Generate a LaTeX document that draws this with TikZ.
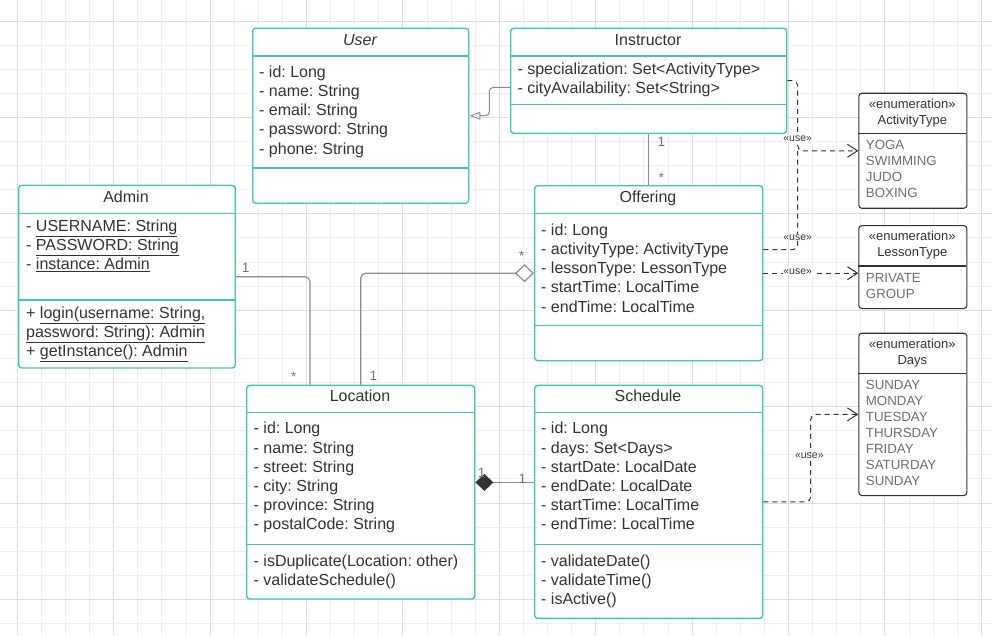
\documentclass[tikz,border=0pt]{standalone}
\usepackage{fontspec}
\setmainfont{Liberation Sans}
\usetikzlibrary{arrows.meta,calc}
\definecolor{teal1}{HTML}{3CC8B3}
\definecolor{txt}{HTML}{333333}
\definecolor{enumv}{HTML}{6D6D7A}
\definecolor{gridminor}{HTML}{EEEEEE}
\definecolor{gridmajor}{HTML}{DDDDDD}
\definecolor{conn}{HTML}{8C8C8C}
\definecolor{mult}{HTML}{70707B}
\frenchspacing
\newcommand\memlines[5]{% x, first centre y, step, name prefix, list
  \foreach \t [count=\i from 0] in {#5} \node[mem] (#4\i) at (#1, #2+5.5+#3*\i) {\t};}
\newcommand\enumlines[4]{% x, first centre y, name prefix, list
  \foreach \t [count=\i from 0] in {#4} \node[evl] (#3\i) at (#1, #2+4.7+16*\i) {\t};}
\begin{document}
\begin{tikzpicture}[x=1pt,y=-1pt,
  cls/.style={draw=teal1, line width=1.4pt, rounded corners=3pt, fill=white, inner sep=0, anchor=north west},
  enm/.style={draw=txt, line width=1.1pt, rounded corners=3pt, fill=white, inner sep=0, anchor=north west},
  sepline/.style={draw=teal1, line width=1.4pt},
  esep/.style={draw=txt, line width=1.1pt},
  ttl/.style={font=\fontsize{16}{19}\selectfont, text=txt, inner sep=0, anchor=base},
  mem/.style={font=\fontsize{16}{19}\selectfont, text=txt, inner sep=0, anchor=base west},
  ehd/.style={font=\fontsize{13}{16}\selectfont, text=txt, inner sep=0, anchor=base},
  evl/.style={font=\fontsize{13.3}{16}\selectfont, text=enumv, inner sep=0, anchor=base west},
  use/.style={font=\fontsize{10.5}{12}\selectfont, text=txt, fill=white, inner sep=0.6pt},
  mlt/.style={font=\fontsize{13.5}{15}\selectfont, text=mult, inner sep=0, anchor=base},
  assoc/.style={draw=conn, line width=1.2pt, rounded corners=5pt},
  dep/.style={draw=txt, line width=1pt, dash pattern=on 5pt off 4pt, rounded corners=5pt},
  deparrow/.style={dep, -{Straight Barb[length=10pt,width=13pt]}},
]
\useasboundingbox (0,0) rectangle (992,635);
\fill[white] (0,0) rectangle (992,635);
% grid
\foreach \k in {0,...,41} {
  \pgfmathsetmacro\gx{-6.8+24.1*\k}
  \pgfmathtruncatemacro\mj{mod(\k+3,4)==0}
  \ifnum\mj=1 \draw[gridmajor, line width=0.9pt] (\gx,0) -- (\gx,635);
  \else \draw[gridminor, line width=0.9pt] (\gx,0) -- (\gx,635); \fi
}
\foreach \k in {0,...,27} {
  \pgfmathsetmacro\gy{-3.1+24.1*\k}
  \pgfmathtruncatemacro\mj{mod(\k+3,4)==0}
  \ifnum\mj=1 \draw[gridmajor, line width=0.9pt] (0,\gy) -- (992,\gy);
  \else \draw[gridminor, line width=0.9pt] (0,\gy) -- (992,\gy); \fi
}

% ---------- User
\node[cls, minimum width=216, minimum height=175] (user) at (252,27.5) {};
\draw[sepline] (252,56) -- (468,56);
\draw[sepline] (252,168) -- (468,168);
\node[ttl, font=\fontsize{16}{19}\selectfont\itshape] (usert) at (360,45.5) {User};
\memlines{259}{71.7}{19.2}{ua}{- id: Long, - name: String, - email: String, - password: String, - phone: String}

% ---------- Instructor
\node[cls, minimum width=276, minimum height=105] (instr) at (510,27.5) {};
\draw[sepline] (510,56) -- (786,56);
\draw[sepline] (510,104.3) -- (786,104.3);
\node[ttl] (instrt) at (648,45.5) {Instructor};
\memlines{517.3}{69.3}{19}{ia}{- specialization: Set<ActivityType>, - cityAvailability: Set<String>}

% ---------- Offering
\node[cls, minimum width=228, minimum height=175] (off) at (534,185) {};
\draw[sepline] (534,213.3) -- (762,213.3);
\draw[sepline] (534,325.3) -- (762,325.3);
\node[ttl] (offt) at (648,202.5) {Offering};
\memlines{541}{229.7}{19.25}{oa}{- id: Long, - activityType: ActivityType, - lessonType: LessonType, - startTime: LocalTime, - endTime: LocalTime}

% ---------- Admin
\node[cls, minimum width=216.5, minimum height=182.6] (admin) at (18,184.7) {};
\draw[sepline] (18,213.7) -- (234.5,213.7);
\draw[sepline] (18,300) -- (234.5,300);
\node[ttl] (admint) at (126,202.2) {Admin};
\memlines{26}{225.7}{19.2}{aa}{- \underline{USERNAME: String}, - \underline{PASSWORD: String}, - \underline{instance: Admin}}
\memlines{26}{313.3}{19}{am}{{+ \underline{login(username: String,}}, \underline{password: String): Admin}, + \underline{getInstance(): Admin}}

% ---------- Location
\node[cls, minimum width=228, minimum height=213.6] (loc) at (246,384.7) {};
\draw[sepline] (246,412.5) -- (474,412.5);
\draw[sepline] (246,544.7) -- (474,544.7);
\node[ttl] (loct) at (360,401.5) {Location};
\memlines{253.5}{428.3}{19.2}{la}{- id: Long, - name: String, - street: String, - city: String, - province: String, - postalCode: String}
\memlines{253.5}{561}{19}{lm}{- isDuplicate(Location: other), - validateSchedule()}

% ---------- Schedule
\node[cls, minimum width=228, minimum height=233] (sched) at (534,384.7) {};
\draw[sepline] (534,412.5) -- (762,412.5);
\draw[sepline] (534,544.7) -- (762,544.7);
\node[ttl] (schedt) at (648,401.5) {Schedule};
\memlines{541}{428.3}{19.2}{sa}{- id: Long, - days: Set<Days>, - startDate: LocalDate, - endDate: LocalDate, - startTime: LocalTime, - endTime: LocalTime}
\memlines{541}{561}{19.2}{sm}{- validateDate(), - validateTime(), - isActive()}

% ---------- Enumerations
\node[enm, minimum width=108, minimum height=115] (acttype) at (858.3,92.7) {};
\draw[esep] (858.3,133.7) -- (966.3,133.7);
\node[ehd] (acth1) at (912.3,108.7) {«enumeration»};
\node[ehd] (acth2) at (912.3,124.7) {ActivityType};
\enumlines{865.7}{145}{av}{YOGA, SWIMMING, JUDO, BOXING}

\node[enm, minimum width=108, minimum height=83] (lesson) at (858.3,225) {};
\draw[esep] (858.3,266) -- (966.3,266);
\node[ehd] (lesh1) at (912.3,240.7) {«enumeration»};
\node[ehd] (lesh2) at (912.3,256.7) {LessonType};
\enumlines{865.7}{277.3}{lv}{PRIVATE, GROUP}

\node[enm, minimum width=108, minimum height=162.3] (days) at (858.3,332.7) {};
\draw[esep] (858.3,373.7) -- (966.3,373.7);
\node[ehd] (dayh1) at (912.3,348.7) {«enumeration»};
\node[ehd] (dayh2) at (912.3,364.7) {Days};
\enumlines{865.7}{385}{dv}{SUNDAY, MONDAY, TUESDAY, THURSDAY, FRIDAY, SATURDAY, SUNDAY}

% ---------- Connectors
\draw[draw=conn, line width=1pt, rounded corners=4pt, -{Triangle[open, length=11pt, width=8pt, fill=white]}]
  ([yshift=-6.7pt]instr.west) -- ++(-20.7,0) |- (user.east);
\draw[assoc] (instr.south) -- (off.north);
\draw[assoc] (admin.east) -| ([xshift=-50.7pt]loc.north);
\draw[assoc, {Diamond[open, length=19pt, width=18pt, fill=white]}-] (off.west) -| (loc.north);
\draw[assoc, {Diamond[length=18pt, width=17pt, color=txt, fill=txt]}-]
  ([yshift=9.8pt]loc.east) -- ([yshift=9.8pt]loc.east -| sched.west);

\coordinate (jx) at (797.7,0);
\draw[deparrow] (instr.east) -- (instr.east -| jx) |- (acttype.west);
\draw[dep] ([yshift=23.5pt]off.east) -| (jx |- acttype.west);
\draw[deparrow] (off.east) -- (off.east -| lesson.west);
\draw[deparrow] (sched.east) -- ++(47.3,0) |- (days.west);

\node[use] (u1) at (797.7,138.7) {«use»};
\node[use] (u2) at (797.7,237.3) {«use»};
\node[use] (u3) at (797.7,271.7) {«use»};
\node[use] (u4) at (809.3,456) {«use»};

% multiplicities
\node[mlt] (m1) at (661.3,146.5) {1};
\node[mlt] (m2) at (661.3,182.5) {*};
\node[mlt] (m3) at (245.7,272.1) {1};
\node[mlt] (m4) at (293.7,381.5) {*};
\node[mlt] (m5) at (521.7,260.9) {*};
\node[mlt] (m6) at (373.3,380.8) {1};
\node[mlt] (m7) at (481.7,477.1) {1};
\node[mlt] (m8) at (522.3,483.8) {1};
\end{tikzpicture}
\end{document}
